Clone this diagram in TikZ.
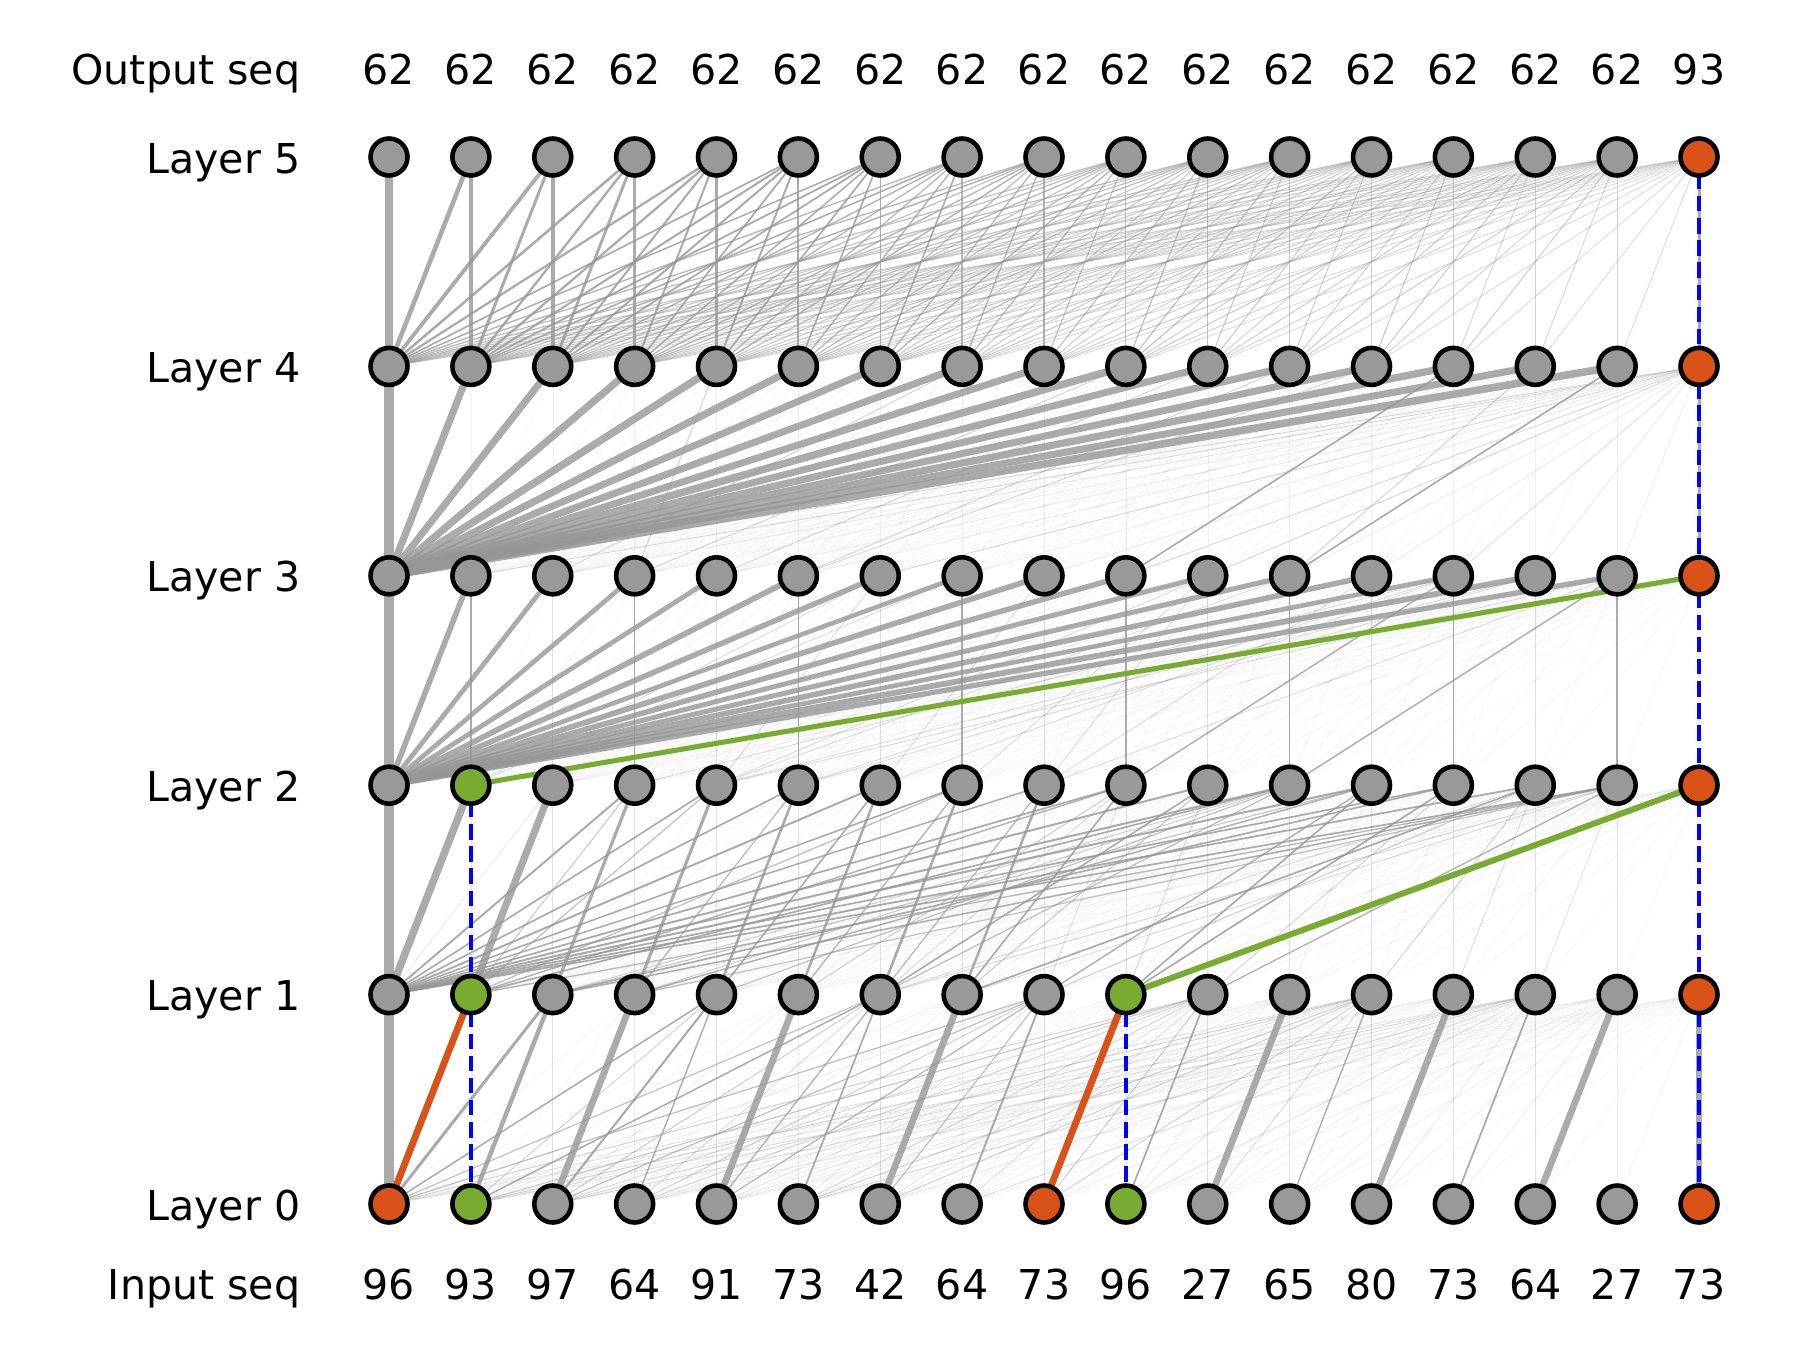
\documentclass[tikz,border=0pt]{standalone}
\usepackage{fontspec}
\setmainfont{DejaVu Sans}
\definecolor{ndgray}{RGB}{153,153,153}
\definecolor{hor}{RGB}{217,83,25}
\definecolor{hgr}{RGB}{119,172,48}
\definecolor{lgray}{RGB}{150,150,150}
\pgfdeclarelayer{back}
\pgfdeclarelayer{bg}
\pgfsetlayers{back,bg,main}
% coloured nodes
\expandafter\def\csname nf0-0\endcsname{hor}
\expandafter\def\csname nf0-1\endcsname{hgr}
\expandafter\def\csname nf0-8\endcsname{hor}
\expandafter\def\csname nf0-9\endcsname{hgr}
\expandafter\def\csname nf0-16\endcsname{hor}
\expandafter\def\csname nf1-1\endcsname{hgr}
\expandafter\def\csname nf1-9\endcsname{hgr}
\expandafter\def\csname nf1-16\endcsname{hor}
\expandafter\def\csname nf2-1\endcsname{hgr}
\expandafter\def\csname nf2-16\endcsname{hor}
\expandafter\def\csname nf3-16\endcsname{hor}
\expandafter\def\csname nf4-16\endcsname{hor}
\expandafter\def\csname nf5-16\endcsname{hor}
% attention weight of layer (t+1) node i on layer t node j
\newcommand\setw[3]{%
 \def\w{0.01}%
 \ifcase#1\relax
  \ifnum#2=0 \def\w{1}%
  \else\ifnum#2=16
     \ifnum#3=16 \def\w{0.7}\else\pgfmathsetmacro\w{0.015*\ra}\fi
  \else\ifodd#2\relax
     \ifnum#3=\numexpr#2-1\relax \def\w{0.7}\else\pgfmathsetmacro\w{0.025*\ra}\fi
  \else
     \ifnum#3=#2\relax \def\w{0.04}%
     \else\ifnum#3=\numexpr#2-1\relax \pgfmathsetmacro\w{ifthenelse(#2==2,0.45,0.12+0.1*\ra)}%
     \else \pgfmathsetmacro\w{(0.6/#2)*(0.4+\ra)}%
     \fi\fi
  \fi\fi\fi
 \or
  \ifnum#2=0 \def\w{1}%
  \else\ifnum#2=1 \ifnum#3=0 \def\w{0.8}\else\def\w{0.03}\fi
  \else\ifnum#2=2 \ifnum#3=1 \def\w{0.75}\else\def\w{0.03}\fi
  \else\ifnum#2=16 \pgfmathsetmacro\w{0.015*\ra}%
  \else
    \ifnum#3=0 \pgfmathsetmacro\w{0.12+0.08*\ra}%
    \else\ifnum#3=\numexpr#2-1\relax \pgfmathsetmacro\w{ifthenelse(#2<9,0.22+0.1*\ra,0.06*\ra)}%
    \else\ifnum#3=#2\relax \def\w{0.03}%
    \else \pgfmathsetmacro\w{ifthenelse(\rb>0.55,0.05+0.1*\ra,0.012*\ra)}%
    \fi\fi\fi
  \fi\fi\fi\fi
 \or
  \ifnum#2=16 \pgfmathsetmacro\w{0.012*\ra}%
  \else\ifnum#3=0 \pgfmathsetmacro\w{ifthenelse(#2==0,1,0.45+0.15*\ra)}%
  \else\ifnum#3=#2\relax \ifodd#2\relax \def\w{0.14}\else\def\w{0.04}\fi
  \else \pgfmathsetmacro\w{ifthenelse(\rb>0.85,0.05,0.012*\ra)}%
  \fi\fi\fi
 \or
  \ifnum#2=16 \ifnum#3=16 \def\w{0.3}\else\pgfmathsetmacro\w{0.02+0.04*\ra}\fi
  \else\ifnum#3=0 \pgfmathsetmacro\w{ifthenelse(#2==0,1,0.72+0.1*\ra)}%
  \else \pgfmathsetmacro\w{ifthenelse(\rb>0.93,0.06,0.008*\ra)}%
  \fi\fi
 \or
  \ifnum#2=16 \ifnum#3=16 \def\w{0.3}\else\def\w{0.05}\fi
  \else \pgfmathsetmacro\w{(0.85+0.3*\ra)/(#2+1)}%
  \fi
 \fi}
\begin{document}
\begin{tikzpicture}[x=0.1mm,y=-0.1mm,
  nd/.style={circle,draw=black,line width=1.3pt,minimum size=3.7mm,inner sep=0pt},
  lbl/.style={anchor=base east,inner sep=0pt,font=\fontsize{11.7}{14}\selectfont},
  num/.style={anchor=base,inner sep=0pt,font=\fontsize{11.7}{14}\selectfont},
  hlor/.style={draw=hor,line width=1.9pt},
  hlgr/.style={draw=hgr,line width=1.7pt},
  res/.style={draw=blue,line width=1.15pt,dash pattern=on 4.4pt off 1.9pt}]
\useasboundingbox (0,0) rectangle (1800,1350);
\begin{pgfonlayer}{back}
\fill[white] (0,0) rectangle (1800,1350);
\end{pgfonlayer}
% nodes
\foreach \l/\yy in {0/1204,1/994.6,2/785.2,3/575.8,4/366.4,5/157}{
  \foreach \i in {0,...,16}{
    \ifcsname nf\l-\i\endcsname \edef\fc{\csname nf\l-\i\endcsname}\else\def\fc{ndgray}\fi
    \node[nd,fill=\fc] (n\l-\i) at ({389+81.875*\i},\yy) {};
  }
}
% labels
\node[lbl] (lout) at (301,85) {Output seq};
\node[lbl] (lin) at (301,1299) {Input seq};
\foreach \l/\yy in {0/1220,1/1010.6,2/801.2,3/591.8,4/382.4,5/173}{
  \node[lbl] (lay\l) at (301,\yy) {Layer \l};
}
\foreach \v [count=\k from 0] in {62,62,62,62,62,62,62,62,62,62,62,62,62,62,62,62,93}{
  \node[num] (o\k) at ({389+81.875*\k},85) {\v};
}
\foreach \v [count=\k from 0] in {96,93,97,64,91,73,42,64,73,96,27,65,80,73,64,27,73}{
  \node[num] (in\k) at ({389+81.875*\k},1299) {\v};
}
\begin{pgfonlayer}{bg}
\pgfmathsetseed{4242}
\foreach \t in {0,...,4}{
  \pgfmathtruncatemacro\u{\t+1}
  \foreach \i in {0,...,16}{
    \foreach \j in {0,...,\i}{
      \pgfmathsetmacro\ra{rnd}
      \pgfmathsetmacro\rb{rnd}
      \setw{\t}{\i}{\j}
      \pgfmathsetmacro\lw{(0.35+9*\w)*0.2845}
      \pgfmathsetmacro\op{min(0.8,0.12+5*\w)}
      \draw[draw=lgray,line width=\lw pt,draw opacity=\op] (n\t-\j.center) -- (n\u-\i.center);
    }
  }
}
% a few darker thin connections
\draw[draw=lgray,line width=0.45pt,draw opacity=0.8] (n3-9.center) -- (n4-13.center);
\draw[draw=lgray,line width=0.45pt,draw opacity=0.8] (n3-11.center) -- (n4-15.center);
\draw[draw=lgray,line width=0.45pt,draw opacity=0.7] (n2-9.center) -- (n3-13.center);
\draw[draw=lgray,line width=0.45pt,draw opacity=0.7] (n2-11.center) -- (n3-15.center);
% highlighted path
\draw[hlor] (n0-0.center) -- (n1-1.center);
\draw[hlor] (n0-8.center) -- (n1-9.center);
\draw[hlgr] (n1-9.center) -- (n2-16.center);
\draw[hlgr,line width=1.45pt] (n2-1.center) -- (n3-16.center);
\draw[res] (n0-1.center) -- (n1-1.center);
\draw[res] (n1-1.center) -- (n2-1.center);
\draw[res] (n0-9.center) -- (n1-9.center);
\draw[res] (n0-16.center) -- (n1-16.center);
\draw[res] (n1-16.center) -- (n2-16.center);
\draw[res] (n2-16.center) -- (n3-16.center);
\draw[res] (n3-16.center) -- (n4-16.center);
\draw[res] (n4-16.center) -- (n5-16.center);
\end{pgfonlayer}
\end{tikzpicture}
\end{document}
